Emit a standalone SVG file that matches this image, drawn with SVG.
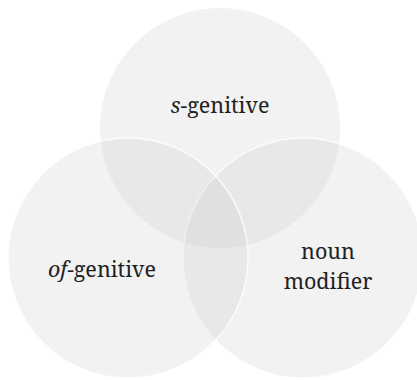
<svg xmlns="http://www.w3.org/2000/svg" width="417" height="380" viewBox="0 0 417 380">
<style>
.c{fill:#c8c8c8;fill-opacity:0.24}
.w{stroke:#ffffff;stroke-width:1.5;stroke-opacity:0.8}
.t{font-size:21.5px;fill:#222222;text-anchor:middle}
</style>
<rect width="417" height="380" fill="#ffffff"/>
<g id="s-genitive">
<circle class="c" cx="220" cy="128" r="120"/>
<text class="t" x="220" y="113" font-family="Noto Serif"><tspan font-style="italic">s</tspan>-genitive</text>
</g>
<g id="noun-modifier">
<circle class="c w" cx="303" cy="258" r="120"/>
<text class="t" x="328" y="259" font-family="Noto Serif">noun</text>
<text class="t" x="328" y="289" font-family="Noto Serif">modifier</text>
</g>
<g id="of-genitive">
<circle class="c w" cx="128" cy="258" r="120"/>
<text class="t" x="102" y="277" font-family="Noto Serif"><tspan font-style="italic">of</tspan>-genitive</text>
</g>
<g id="connectors"/>
</svg>
